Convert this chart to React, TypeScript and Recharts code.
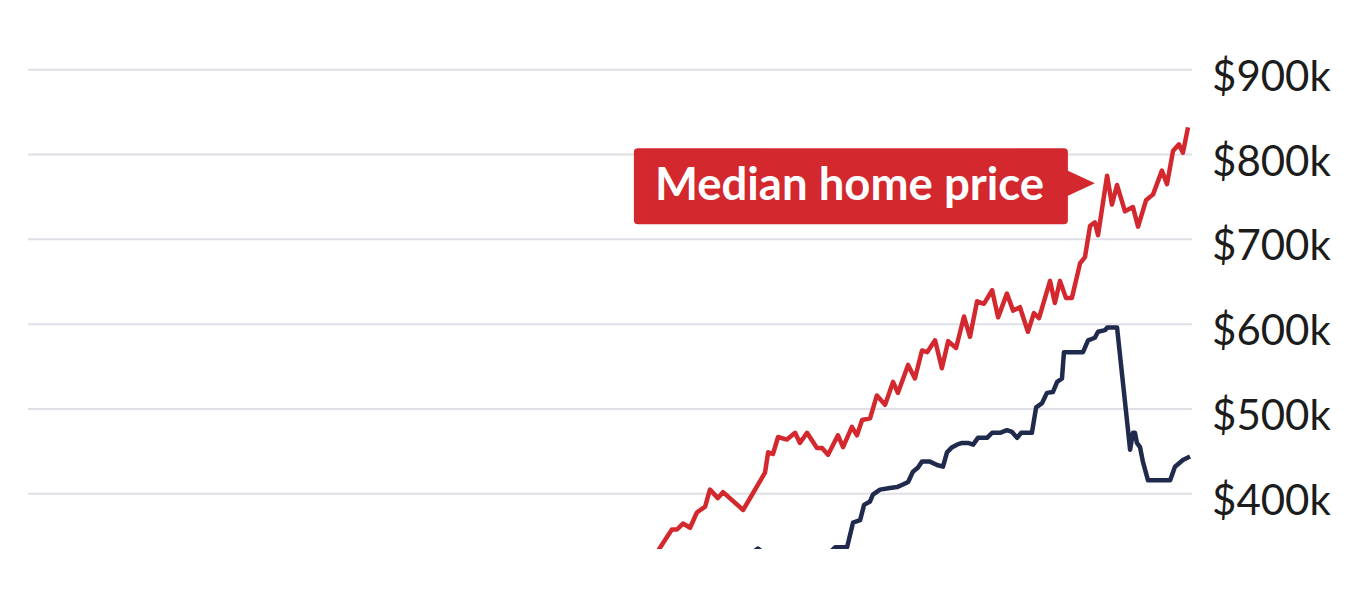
import React from 'react';
import { LineChart, Line, XAxis, YAxis, CartesianGrid, ReferenceDot } from 'recharts';

// values in thousands of dollars, x as decimal years
const priceYears = [2005.6, 2005.83, 2006.18, 2006.36, 2006.57, 2006.82, 2007.06, 2007.35, 2007.52, 2007.8, 2007.98, 2008.69, 2009.04, 2009.46, 2009.57, 2009.74, 2009.92, 2010.23, 2010.52, 2010.69, 2010.94, 2011.29, 2011.47, 2011.68, 2012.03, 2012.21, 2012.52, 2012.7, 2012.88, 2013.16, 2013.4, 2013.69, 2013.97, 2014.14, 2014.5, 2014.74, 2014.99, 2015.17, 2015.45, 2015.69, 2015.91, 2016.19, 2016.47, 2016.68, 2016.93, 2017.17, 2017.46, 2017.67, 2017.98, 2018.2, 2018.44, 2018.72, 2018.93, 2019.11, 2019.5, 2019.67, 2019.85, 2020.06, 2020.27, 2020.56, 2020.73, 2020.91, 2021.08, 2021.19, 2021.51, 2021.68, 2021.86, 2022.14, 2022.42, 2022.6, 2022.88, 2023.13, 2023.44, 2023.62, 2023.83, 2024.04, 2024.18, 2024.36];
const priceValues = [328, 340, 358, 358, 365, 360, 378, 385, 405, 395, 402, 381, 401, 425, 449, 447, 467, 464, 472, 460, 472, 454, 454, 446, 469, 455, 479, 469, 487, 489, 516, 505, 532, 519, 552, 536, 569, 567, 581, 548, 580, 572, 609, 585, 627, 624, 640, 608, 636, 616, 620, 591, 613, 607, 651, 625, 651, 631, 631, 672, 679, 716, 720, 705, 775, 741, 764, 733, 738, 715, 746, 753, 781, 765, 804, 812, 802, 832];

const affordYears = [2008.3, 2008.9, 2009.21, 2009.5, 2011.6, 2011.93, 2012.35, 2012.56, 2012.81, 2012.95, 2013.16, 2013.26, 2013.51, 2013.86, 2014.11, 2014.32, 2014.5, 2014.67, 2014.85, 2014.99, 2015.27, 2015.52, 2015.73, 2015.87, 2016.05, 2016.22, 2016.4, 2016.61, 2016.79, 2016.96, 2017.28, 2017.46, 2017.74, 2017.98, 2018.16, 2018.34, 2018.48, 2018.86, 2019.01, 2019.22, 2019.39, 2019.6, 2019.75, 2019.92, 2019.99, 2020.66, 2020.84, 2021.08, 2021.19, 2021.44, 2021.51, 2021.86, 2022.32, 2022.42, 2022.49, 2022.56, 2022.67, 2022.77, 2022.95, 2023.73, 2023.9, 2024.18, 2024.43];
const affordValues = [318, 328, 335.5, 328, 326, 337, 337, 366, 369, 387, 391, 399, 405, 407, 408, 411, 414, 426, 431, 438, 438, 434, 432, 449, 455, 458, 460, 460, 458, 466, 466, 472, 472, 475, 473, 466, 472, 472, 502, 507, 519, 520, 532, 536, 567, 567, 581, 584, 591, 593, 596, 596, 452, 472, 472, 460, 455, 438, 416, 416, 432, 440, 444];

const yTicks = [400, 500, 600, 700, 800, 900];
const labelText = 'Median home price';
const labelPoint = { year: 2021.08, value: 766 };

const priceData = priceYears.map((year, i) => ({ year, value: priceValues[i] }));
const affordData = affordYears.map((year, i) => ({ year, value: affordValues[i] }));

const RED = '#d3282e';
const NAVY = '#1f2a4c';

const PriceTick = (props: any) => {
  const { x, y, payload } = props;
  return (
    <text x={x + 12} y={y + 21} textAnchor="start" fill="#1c1c1c" fontSize={42} fontFamily="Lato, sans-serif">
      ${payload.value}k
    </text>
  );
};

const LabelBox = (props: any) => {
  const { cx, cy } = props;
  const boxW = 434;
  const boxH = 76;
  const bx = cx - 27 - boxW;
  const by = cy - 35;
  return (
    <g>
      <rect x={bx} y={by} width={boxW} height={boxH} rx={4} fill={RED} />
      <polygon points={`${bx + boxW - 1},${cy - 13} ${cx},${cy} ${bx + boxW - 1},${cy + 13}`} fill={RED} />
      <text x={bx + 21} y={cy + 17} fill="#fff" fontSize={45.5} fontWeight={700} fontFamily="Lato, sans-serif">
        {labelText}
      </text>
    </g>
  );
};

export default function App() {
  return (
    <LineChart width={1354} height={574} margin={{ top: 15, right: 0, bottom: 33, left: 20 }}>
      <CartesianGrid horizontal vertical={false} horizontalValues={yTicks} stroke="#dfe0e6" strokeWidth={2} />
      <XAxis type="number" dataKey="year" domain={[1983.5, 2024.5]} hide allowDataOverflow />
      <YAxis
        orientation="right"
        type="number"
        domain={[335, 955]}
        ticks={yTicks}
        allowDataOverflow
        axisLine={false}
        tickLine={false}
        width={170}
        tick={<PriceTick />}
      />
      <Line
        data={affordData}
        dataKey="value"
        type="linear"
        stroke={NAVY}
        strokeWidth={4.5}
        strokeLinejoin="round"
        dot={false}
        isAnimationActive={false}
      />
      <Line
        data={priceData}
        dataKey="value"
        type="linear"
        stroke={RED}
        strokeWidth={4.5}
        strokeLinejoin="round"
        dot={false}
        isAnimationActive={false}
      />
      <ReferenceDot
        x={labelPoint.year}
        y={labelPoint.value}
        r={0}
        ifOverflow="visible"
        shape={<LabelBox />}
      />
    </LineChart>
  );
}
